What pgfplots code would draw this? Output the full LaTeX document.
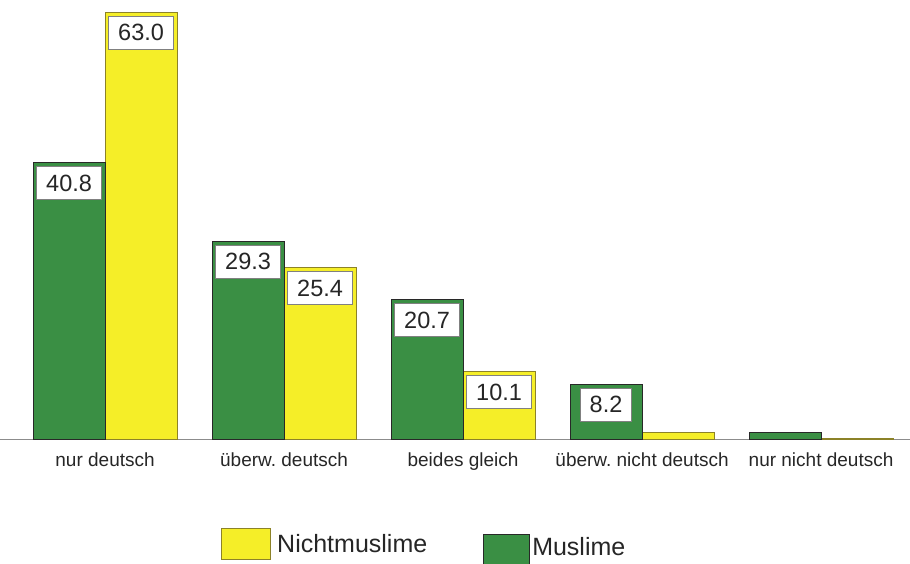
\documentclass[border=0pt]{standalone}
\usepackage{pgfplots}
\pgfplotsset{compat=1.18}
\usepackage{fontspec}
\setmainfont{Liberation Sans}
\definecolor{mgreen}{RGB}{58,143,68}
\definecolor{nyellow}{RGB}{245,238,40}
\definecolor{yedge}{RGB}{140,130,40}
\definecolor{gedge}{RGB}{40,40,40}
\pgfplotsset{valuelabel/.style={forget plot, draw=none, fill=none,
   point meta=explicit symbolic, nodes near coords,
   every node near coord/.append style={anchor=north, yshift=-3.5pt, fill=white, draw=gray, line width=1pt,
   inner xsep=9.5pt, inner ysep=0pt, minimum height=33pt, font=\fontsize{23.5}{24}\selectfont, text=black!85}}}
\begin{document}
\frenchspacing
\begin{tikzpicture}
\useasboundingbox (0,-124pt) rectangle (910pt,440pt);
\begin{axis}[
 at={(0,0)}, anchor=south west,
 scale only axis, width=910pt, height=440pt,
 xmin=-0.587, xmax=4.497, ymin=0, ymax=64.8,
 axis x line=bottom, axis y line=none,
 axis line style={-, draw=gray!90, line width=1pt},
 xtick={0,...,4},
 xticklabels={nur deutsch, überw.\ deutsch, beides gleich, überw.\ nicht deutsch, nur nicht deutsch},
 major tick length=0pt,
 xticklabel style={font=\fontsize{19}{20}\selectfont, text=black!85, text height=14pt, text depth=4pt, yshift=-8.5pt},
 ytick=\empty,
 ybar, bar width=72pt,
 legend style={at={(0.2429,-0.2425)}, anchor=west, draw=none, fill=none, inner sep=0pt,
   font=\fontsize{25}{26}\selectfont, text=black!85,
   /tikz/every even column/.append style={column sep=54pt}},
 legend columns=2,
 legend cell align=left,
 clip=false,
]
\addplot[fill=nyellow, draw=yedge, line width=1pt, bar shift=36pt,
  legend image code/.code={\draw[fill=nyellow, draw=yedge, line width=1pt] (0pt,-15.5pt) rectangle (49pt,15.5pt);}]
  coordinates {(0,63.0) (1,25.4) (2,10.1) (3,1.1) (4,0.2)};
\addlegendentry{\hspace{4pt}Nichtmuslime}
\addplot[fill=mgreen, draw=gedge, line width=1pt, bar shift=-36pt,
  legend image code/.code={\draw[fill=mgreen, draw=gedge, line width=1pt] (0pt,-21pt) rectangle (46pt,9pt);}]
  coordinates {(0,40.8) (1,29.3) (2,20.7) (3,8.2) (4,1.1)};
\addlegendentry{\raisebox{-6pt}{Muslime}}
\addplot[valuelabel, bar shift=36pt]
  coordinates {(0,63.0) [63.0] (1,25.4) [25.4] (2,10.1) [10.1]};
\addplot[valuelabel, bar shift=-36pt]
  coordinates {(0,40.8) [40.8] (1,29.3) [29.3] (2,20.7) [20.7] (3,8.2) [8.2]};
\end{axis}
\end{tikzpicture}
\end{document}
